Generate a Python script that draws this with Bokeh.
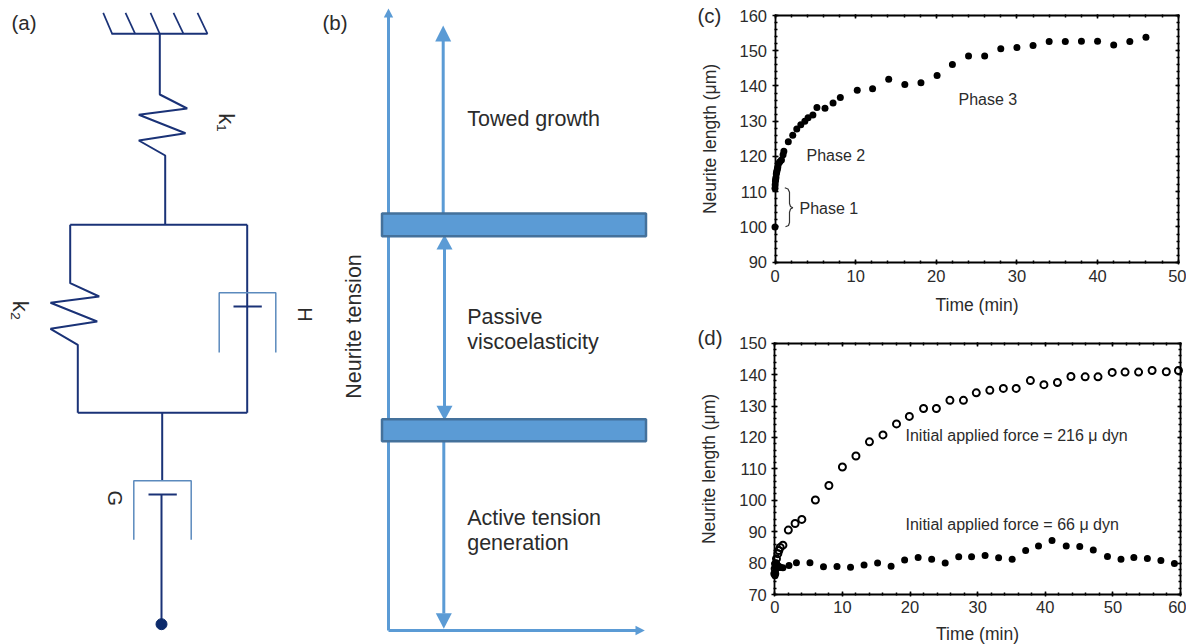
import math
from bokeh.embed import file_html
from bokeh.resources import INLINE
from bokeh.layouts import row, column
from bokeh.plotting import figure
from bokeh.models import Range1d, LinearAxis, FixedTicker
from bokeh.core.properties import value

# ---------- panel (c) data ----------
c_time = [0, 0, 0.02, 0.05, 0.08, 0.12, 0.16, 0.2, 0.25, 0.3, 0.35, 0.45, 0.6, 0.8, 1.0, 1.1,
          1.65, 2.2, 2.7, 3.2, 3.7, 4.1, 4.7, 5.2, 6.2, 7.2, 8.1, 10.2, 12.1, 14.1, 16.1,
          18.1, 20.1, 22, 24, 26, 28, 30, 32, 34, 36, 38, 40, 42, 44, 46]
c_length = [100, 111, 112, 113, 113.5, 114, 115, 115.5, 116, 116.5, 117, 118, 118.5, 119, 120.5, 121.5,
            124.2, 126, 127.8, 129, 130, 131, 131.8, 133.9, 133.7, 135.2, 136.7, 138.8, 139.2, 141.9, 140.4,
            140.9, 143, 146.1, 148.5, 148.5, 150.6, 150.9, 151.5, 152.6, 152.6, 152.7, 152.7, 151.6, 152.6, 153.8]

# ---------- panel (d) data ----------
d_open_time = [0, 0.05, 0.15, 0.25, 0.45, 0.6, 0.8, 1.2, 2, 3, 4, 6, 8, 10, 12, 14, 16, 18, 19.9, 22, 23.9,
               25.9, 27.9, 29.8, 31.8, 33.8, 35.7, 37.8, 39.8, 41.8, 43.8, 45.9, 47.8, 49.9, 51.8,
               53.8, 55.8, 57.9, 59.7]
d_open_length = [76.6, 78.2, 79.8, 81.4, 83, 84, 85, 85.7, 90.5, 92.6, 93.9, 100.1, 104.7, 110.6, 114.1,
                 118.6, 120.8, 124.3, 126.7, 129.2, 129.2, 131.8, 131.8, 134.2, 135, 135.6, 135.6, 138.1,
                 136.8, 137.5, 139.4, 139.3, 139.3, 140.7, 140.8, 140.8, 141.3, 140.9, 141.3]
d_fill_time = [0, 0.03, 0.06, 0.1, 0.15, 0.25, 0.4, 0.6, 0.9, 1.2, 2.1, 3.2, 5.2, 7.2, 9.2, 11.2, 13.2, 15.2,
               17.2, 19.2, 21.2, 23.2, 25.2, 27.2, 29.1, 31.1, 33.1, 35.1, 37.1, 39, 41, 43.1, 45.1, 47.1,
               49.2, 51.2, 53.1, 55.1, 57.1, 59.1]
d_fill_length = [79.8, 76, 77, 78.5, 80, 79, 78.5, 79, 78.6, 78.5, 79.2, 80.1, 80.1, 78.8, 78.9, 78.7, 79.4, 80,
                 79, 81, 81.8, 81.2, 80, 82, 82, 82.4, 81.7, 81.2, 84, 85.4, 87.2, 85.4, 85.3, 84.2,
                 82.1, 81.2, 81.8, 81.5, 80.8, 79.9]

c_xticks = [0, 10, 20, 30, 40, 50]
c_yticks = [90, 100, 110, 120, 130, 140, 150, 160]
d_xticks = [0, 10, 20, 30, 40, 50, 60]
d_yticks = [70, 80, 90, 100, 110, 120, 130, 140, 150]

# ---------- schematic (a) paths, in picture pixels ----------
hatch_bar = [[111, 207], [33.3, 33.3]]
hatch_top_x = [102.7, 125, 150, 173, 197]
hatch_bot_x = [111.7, 134.7, 159.3, 183, 207]
k1_path = [[159.3, 159.3, 186.7, 138.3, 185, 138.3, 164.7, 164.7],
           [33.3, 94, 108, 114.3, 132.7, 140, 155, 224]]
top_rail = [[69.7, 246.7], [224.3, 224.3]]
k2_path = [[69.7, 69.7, 98.7, 50, 96.7, 50, 77.3, 77.3],
           [224.3, 282.7, 296, 302.3, 321, 328.3, 344.3, 412.3]]
right_branch = [[246.7, 246.7], [224.3, 412.3]]
bottom_rail = [[77.3, 246.7], [412.3, 412.3]]
g_stem = [[161.7, 161.7], [412.3, 480]]
h_cup = [[218.7, 218.7, 275.3, 275.3], [352, 292.3, 292.3, 352]]
h_piston = [[233, 261.3], [306, 306]]
g_cup = [[133.3, 133.3, 190.7, 190.7], [539.3, 480.3, 480.3, 539.3]]
g_piston = [[148, 176.3], [494, 494]]
g_rod = [[161, 161], [494, 623.7]]
g_end = [161, 623.7]

# ---------- schematic (b) shapes, in picture pixels ----------
b_bars_x = [[381.5, 645.5, 645.5, 381.5], [381.5, 645.5, 645.5, 381.5]]
b_bars_y = [[213, 213, 235.7, 235.7], [418.7, 418.7, 440.7, 440.7]]
b_lines = [
    ([388, 388], [16, 630]),
    ([388, 636], [630, 630]),
    ([442.7, 442.7], [40, 213]),
    ([444, 444], [248, 406]),
    ([443.3, 443.3], [441, 613]),
]
b_heads_x = [[383.3, 388, 392.7], [434.7, 442.7, 450.7], [436, 444, 452],
             [436, 444, 452], [435.3, 443.3, 451.3], [635, 644.3, 635]]
b_heads_y = [[17, 8, 17], [41, 25, 41], [249, 234.3, 249],
             [405.3, 420, 405.3], [612.7, 628.3, 612.7], [625.2, 630, 634.8]]

FONT = value("Liberation Sans")
INK = "#2b2b2b"
NAVY = "#1a3277"
CUP = "#5b8abd"
BLUE = "#5b9bd5"
BAR_EDGE = "#44719b"

# ---------- left figure: panels (a) and (b) ----------
left = figure(width=690, height=644, x_range=Range1d(0, 690), y_range=Range1d(644, 0),
              output_backend="svg", toolbar_location=None, min_border=0)
left.axis.visible = False
left.grid.visible = False
left.outline_line_color = None

for path in [hatch_bar, k1_path, top_rail, k2_path, right_branch, bottom_rail, g_stem, h_piston, g_piston, g_rod]:
    left.line(path[0], path[1], line_color=NAVY, line_width=2)
for xt, xb in zip(hatch_top_x, hatch_bot_x):
    left.line([xt, xb], [12.3, 33.3], line_color=NAVY, line_width=1.7)
for path in [h_cup, g_cup]:
    left.line(path[0], path[1], line_color=CUP, line_width=1.5)
left.scatter([g_end[0]], [g_end[1]], size=11, color="#0c2a6b")

for xs, ys in b_lines:
    left.line(xs, ys, line_color=BLUE, line_width=3)
left.patches(b_heads_x, b_heads_y, fill_color=BLUE, line_color=None)
left.patches(b_bars_x, b_bars_y, fill_color=BLUE, line_color=BAR_EDGE, line_width=2.5)


def put(fig, x, y, s, size, angle=0.0, align="left"):
    fig.text([x], [y], text=[s], text_font=FONT, text_font_size=size, text_color=INK,
             text_align=align, text_baseline="middle", angle=angle)


put(left, 11, 22, "(a)", "20.5px")
put(left, 322, 22, "(b)", "20.5px")
put(left, 226, 122, "k\u2081", "22px", -math.pi / 2, "center")
put(left, 20, 310, "k\u2082", "22px", -math.pi / 2, "center")
put(left, 304.7, 314, "H", "20px", -math.pi / 2, "center")
put(left, 114, 497.7, "G", "20px", -math.pi / 2, "center")
put(left, 353, 326, "Neurite tension", "21.5px", math.pi / 2, "center")
put(left, 466.7, 118.5, "Towed growth", "21.5px")
put(left, 466.7, 316, "Passive", "21.5px")
put(left, 466.7, 341, "viscoelasticity", "21.5px")
put(left, 466.7, 517, "Active tension", "21.5px")
put(left, 466.7, 542, "generation", "21.5px")


# ---------- shared builder for the two data panels ----------
def data_panel(fig_top, height, x0_px, x1_px, yhi_px, ylo_px, xmax, ylo, yhi, xticks, yticks, tick_standoff, label_standoff):
    """The frame fills the whole figure; the axes sit on the drawn box at fixed data locations."""
    frame_l, frame_r = 690, 1186
    frame_t, frame_b = fig_top, fig_top + height
    sx = (x1_px - x0_px) / xmax
    sy = (ylo_px - yhi_px) / (yhi - ylo)
    xr = Range1d((frame_l - x0_px) / sx, xmax + (frame_r - x1_px) / sx)
    yr = Range1d(ylo - (frame_b - ylo_px) / sy, yhi + (yhi_px - frame_t) / sy)
    p = figure(width=496, height=height, x_range=xr, y_range=yr, x_axis_location=None, y_axis_location=None,
               output_backend="svg", toolbar_location=None, min_border=0)
    p.grid.visible = False
    p.outline_line_color = None

    def ax(place, loc, ticks, bounds, labelled, label=None, t_in=3, t_out=2):
        a = LinearAxis(fixed_location=loc, bounds=bounds,
                       ticker=FixedTicker(ticks=ticks,
                                          minor_ticks=[ticks[0] + i * 2 for i in range(int((ticks[-1] - ticks[0]) / 2) + 1)]),
                       axis_line_color="black", axis_line_width=1.8,
                       major_tick_line_color="black", minor_tick_line_color="black",
                       major_tick_line_width=1.5, minor_tick_line_width=1.5,
                       major_tick_in=t_in, major_tick_out=t_out, minor_tick_in=2, minor_tick_out=1,
                       major_label_text_font="Liberation Sans", major_label_text_font_size="16.5px",
                       major_label_text_color=INK)
        if not labelled:
            a.major_label_overrides = {t: "" for t in ticks}
        if label:
            a.axis_label = label
            a.axis_label_text_font = "Liberation Sans"
            a.axis_label_text_font_size = "17.5px"
            a.axis_label_text_font_style = "normal"
            a.axis_label_text_color = INK
        p.add_layout(a, place)
        return a

    bx = ax("below", ylo, xticks, (0, xmax), True, "Time (min)")
    bx.major_label_standoff = tick_standoff
    bx.axis_label_standoff = label_standoff
    ly = ax("left", 0, yticks, (ylo, yhi), True, "Neurite length (\u03bcm)", t_in=3, t_out=3)
    ly.major_label_standoff = 5
    ly.axis_label_standoff = 17
    ax("above", yhi, xticks, (0, xmax), False, t_in=3, t_out=1)
    ax("right", xmax, yticks, (ylo, yhi), False, t_in=3, t_out=1)

    def to_data(px, py):
        return (px - x0_px) / sx, yhi - (py - yhi_px) / sy

    return p, to_data


# ---------- panel (c) ----------
pc, c_xy = data_panel(0, 320, 774.5, 1177.7, 15, 261.7, 50, 90, 160, c_xticks, c_yticks, 6, 9)
pc.scatter(c_time, c_length, size=7, color="black", line_color=None)
for px, py, s in [(958, 98.7, "Phase 3"), (806, 154.7, "Phase 2"), (799, 207.5, "Phase 1")]:
    x, y = c_xy(px, py)
    pc.text([x], [y], text=[s], text_font=FONT, text_font_size="16px", text_color=INK,
            text_align="left", text_baseline="middle")
brace_px = [(784.3, 187.3), (787.5, 188.5), (789, 191.7), (789, 203), (790, 206), (792.3, 207.3),
            (790, 208.6), (789, 211.7), (789, 222), (788, 225), (785, 226.3)]
bx_, by_ = zip(*[c_xy(*q) for q in brace_px])
pc.line(list(bx_), list(by_), line_color="#333333", line_width=1.2)
lx, ly_ = c_xy(697, 15)
put(pc, lx, ly_, "(c)", "20.5px")

# ---------- panel (d) ----------
pd_, d_xy = data_panel(320, 324, 774.3, 1180, 342.7, 594, 60, 70, 150, d_xticks, d_yticks, 4, 8)
pd_.scatter(d_fill_time, d_fill_length, size=7, color="black", line_color=None)
pd_.scatter(d_open_time, d_open_length, size=7, fill_color=None, line_color="black", line_width=2)
for py, s in [(435, "Initial applied force = 216 \u03bc dyn"), (524, "Initial applied force = 66 \u03bc dyn")]:
    x, y = d_xy(905, py)
    pd_.text([x], [y], text=[s], text_font=FONT, text_font_size="16px", text_color=INK,
             text_align="left", text_baseline="middle")
lx, ly_ = d_xy(697, 337)
put(pd_, lx, ly_, "(d)", "20.5px")

page = row(left, column(pc, pd_))
open("out.html", "w").write(file_html(page, INLINE))
